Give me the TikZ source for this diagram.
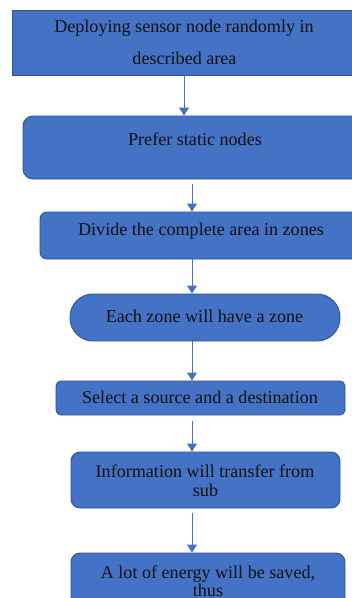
\documentclass[tikz,border=0pt]{standalone}
\usepackage{fontspec}
\setmainfont{Liberation Serif}
\usetikzlibrary{arrows.meta}
\definecolor{boxfill}{HTML}{4472C4}
\definecolor{boxedge}{HTML}{2F528F}
\definecolor{arrowblue}{HTML}{4472C4}
\definecolor{ink}{HTML}{111111}
\tikzset{
  stepbox/.style={draw=boxedge, line width=0.9pt, fill=boxfill, inner sep=0pt},
  steptext/.style={text=ink, font=\fontsize{18.1}{20}\selectfont, align=center, inner sep=0pt, anchor=base},
  arr/.style={draw=arrowblue, line width=0.9pt, -{Triangle[width=10pt,length=8pt]}}
}
\begin{document}
\begin{tikzpicture}[x=1pt, y=-1pt]
\useasboundingbox (0,0) rectangle (352,598);
\clip (0,0) rectangle (352,598);
% boxes
\node[stepbox, minimum width=344pt, minimum height=65pt] (b1) at (184,42.5) {};
\node[stepbox, rounded corners=10pt, minimum width=339pt, minimum height=63pt] (b2) at (192.5,147.5) {};
\node[stepbox, rounded corners=7pt, minimum width=320pt, minimum height=47pt] (b3) at (200,235.5) {};
\node[stepbox, rounded corners=23pt, minimum width=270pt, minimum height=47pt] (b4) at (205,317.5) {};
\node[stepbox, rounded corners=5pt, minimum width=289pt, minimum height=34pt] (b5) at (200.5,398) {};
\node[stepbox, rounded corners=9pt, minimum width=269pt, minimum height=56pt] (b6) at (205.5,480) {};
\node[stepbox, rounded corners=9pt, minimum width=274pt, minimum height=67pt] (b7) at (208,586.5) {};
% labels
\node[steptext] (t1a) at (184,32) {Deploying sensor node randomly in};
\node[steptext] (t1b) at (184.5,64) {described area};
\node[steptext] (t2) at (195,145.5) {Prefer static nodes};
\node[steptext] (t3) at (201,235.5) {Divide the complete area in zones};
\node[steptext] (t4) at (204.5,322.3) {Each zone will have a zone};
\node[steptext] (t5) at (200,403) {Select a source and a destination};
\node[steptext] (t6a) at (205,477.3) {Information will transfer from};
\node[steptext] (t6b) at (205.5,496.7) {sub};
\node[steptext] (t7a) at (208,578.3) {A lot of energy will be saved,};
\node[steptext] (t7b) at (208,596) {thus};
% connectors
\coordinate (spine) at (192,0);
\draw[arr] (b1.south -| t1a) -- (b2.north -| t1a);
\draw[arr] ([yshift=-5pt]b2.south -| spine) -- (b3.north -| spine);
\draw[arr] (b3.south -| spine) -- (b4.north -| spine);
\draw[arr] (b4.south -| spine) -- (b5.north -| spine);
\draw[arr] ([yshift=-6pt]b5.south -| spine) -- (b6.north -| spine);
\draw[arr] ([yshift=-5pt]b6.south -| spine) -- (b7.north -| spine);
\end{tikzpicture}
\end{document}
